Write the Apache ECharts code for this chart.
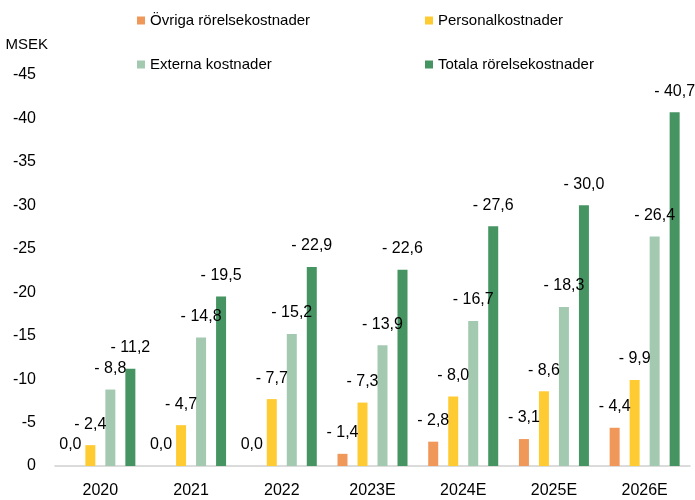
<!DOCTYPE html>
<html>
<head>
<meta charset="utf-8">
<script src="https://cdn.jsdelivr.net/npm/echarts@6/dist/echarts.min.js"></script>
<style>
  html, body { margin: 0; padding: 0; background: #fff; }
  #chart { width: 695px; height: 500px; }
</style>
</head>
<body>
<div id="chart"></div>
<script>
const years = ['2020', '2021', '2022', '2023E', '2024E', '2025E', '2026E']
const ovriga = [0.0, 0.0, 0.0, 1.4, 2.8, 3.1, 4.4]
const personal = [2.4, 4.7, 7.7, 7.3, 8.0, 8.6, 9.9]
const externa = [8.8, 14.8, 15.2, 13.9, 16.7, 18.3, 26.4]
const totala = [11.2, 19.5, 22.9, 22.6, 27.6, 30.0, 40.7]

const FONT = '"Liberation Sans Narrow", "Arial Narrow", "Liberation Sans", Arial, sans-serif'

const fmt = v => v === 0 ? '0,0' : '- ' + v.toFixed(1).replace('.', ',')

const chart = echarts.init(document.getElementById('chart'))

const mkSeries = (name, data, color) => ({
  name, type: 'bar', data,
  barWidth: 10, barGap: '100%',
  itemStyle: { color },
  label: {
    show: true, position: 'top', distance: 13,
    formatter: p => fmt(p.value),
    color: '#000', fontSize: 16, fontFamily: FONT
  }
})

const legendBase = {
  itemWidth: 8, itemHeight: 8, itemGap: 6, icon: 'rect',
  textStyle: { fontSize: 15, fontFamily: FONT, color: '#000' }
}

chart.setOption({
  animation: false,
  legend: [
    { ...legendBase, left: 132, top: 8, data: ['Övriga rörelsekostnader'] },
    { ...legendBase, left: 420, top: 8, data: ['Personalkostnader'] },
    { ...legendBase, left: 132, top: 52, data: ['Externa kostnader'] },
    { ...legendBase, left: 420, top: 52, data: ['Totala rörelsekostnader'] }
  ],
  grid: { left: 55, right: 5, top: 75, bottom: 34 },
  xAxis: {
    type: 'category',
    data: years,
    axisTick: { show: false },
    axisLine: { lineStyle: { color: '#d0d0d0', width: 1.5 } },
    axisLabel: { color: '#000', fontSize: 16, fontFamily: FONT, margin: 17 }
  },
  yAxis: {
    type: 'value',
    min: 0, max: 45, interval: 5,
    name: 'MSEK',
    nameLocation: 'end',
    nameGap: 23,
    nameTextStyle: { color: '#000', fontSize: 15, fontFamily: FONT, align: 'right', padding: [0, 7, 0, 0] },
    splitLine: { show: false },
    axisLine: { show: false },
    axisTick: { show: false },
    axisLabel: {
      color: '#000', fontSize: 16, fontFamily: FONT, margin: 19,
      formatter: v => v === 0 ? '0' : '-' + v
    }
  },
  series: [
    mkSeries('Övriga rörelsekostnader', ovriga, '#f0975a'),
    mkSeries('Personalkostnader', personal, '#ffcb33'),
    mkSeries('Externa kostnader', externa, '#a4c9b1'),
    mkSeries('Totala rörelsekostnader', totala, '#459462')
  ]
})
</script>
</body>
</html>
